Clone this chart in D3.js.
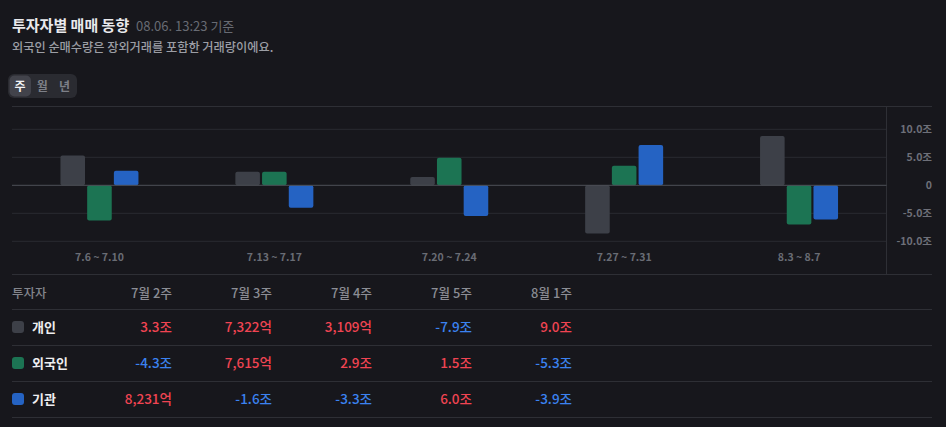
<!DOCTYPE html>
<html>
<head>
<meta charset="utf-8">
<script src="https://cdn.jsdelivr.net/npm/d3@7"></script>
<style>
  html, body { margin: 0; padding: 0; background: #17171c; }
  svg { display: block; font-family: "Noto Sans CJK KR", "Noto Sans", sans-serif; }
</style>
</head>
<body>
<svg id="chart" width="946" height="427"></svg>
<script>
// weekly ranges shown under the bars
const weeks = ["7.6 ~ 7.10", "7.13 ~ 7.17", "7.20 ~ 7.24", "7.27 ~ 7.31", "8.3 ~ 8.7"];
// bar values, 조
const individual = [5.3, 2.4, 1.5, -8.6, 8.8];
const foreign = [-6.3, 2.4, 4.9, 3.5, -7.0];
const institution = [2.6, -4.0, -5.5, 7.2, -6.1];
const yTicks = [-10, -5, 0, 5, 10];

// table
const weekLabels = ["7월 2주", "7월 3주", "7월 4주", "7월 5주", "8월 1주"];
const investors = ["개인", "외국인", "기관"];
// net amounts in 억
const tblIndividual = [33000, 7322, 3109, -79000, 90000];
const tblForeign = [-43000, 7615, 29000, 15000, -53000];
const tblInstitution = [8231, -16000, -33000, 60000, -39000];

const colors = ["#3d4048", "#1c7453", "#2563c3"];
const RED = "#f04452", BLUE = "#3b82f0";

// plain hyphen for negatives, like the original
const locale = d3.formatLocale({ decimal: ".", thousands: ",", grouping: [3], currency: ["", ""], minus: "-" });
const f1 = locale.format(".1f");
const fComma = locale.format(",");

const svg = d3.select("#chart");

// ---- header
svg.append("text").text("투자자별 매매 동향")
  .attr("x", 12).attr("y", 31)
  .attr("fill", "#e9e9ec").attr("font-size", 15).attr("font-weight", 700);
svg.append("text").text("08.06. 13:23 기준")
  .attr("x", 136).attr("y", 31)
  .attr("fill", "#686b73").attr("font-size", 13);
svg.append("text").text("외국인 순매수량은 장외거래를 포함한 거래량이에요.")
  .attr("x", 12).attr("y", 52)
  .attr("fill", "#9c9ea5").attr("font-size", 12.2).attr("font-weight", 500);

// period toggle
svg.append("rect").attr("x", 8).attr("y", 74).attr("width", 69).attr("height", 24)
  .attr("rx", 6).attr("fill", "#2a2b31");
svg.append("rect").attr("x", 9.5).attr("y", 75.5).attr("width", 21.5).attr("height", 21)
  .attr("rx", 5).attr("fill", "#42434b");
const toggles = ["주", "월", "년"];
svg.selectAll(".tog").data(toggles).join("text")
  .attr("class", "tog")
  .attr("x", (d, i) => 20 + i * 22.3).attr("y", 90.5)
  .attr("text-anchor", "middle").attr("font-size", 12).attr("font-weight", 700)
  .attr("fill", (d, i) => i === 0 ? "#f2f2f4" : "#7d8088")
  .text(d => d);

// ---- chart
const plotLeft = 12, plotRight = 886.5, axisRight = 932, plotTop = 106, plotBottom = 274;

const x0 = d3.scaleBand().domain(weeks).range([plotLeft, plotRight]);
const x1 = d3.scaleBand().domain([0, 1, 2]).range([-39, 39]).paddingInner(0.08);
const y = d3.scaleLinear().domain([-10, 10]).range([241.3, 129.3]);

const g = svg.append("g");

// grid
g.selectAll(".grid").data(yTicks.filter(d => d !== 0)).join("line")
  .attr("x1", plotLeft).attr("x2", plotRight)
  .attr("y1", d => y(d)).attr("y2", d => y(d))
  .attr("stroke", "#2a2b31").attr("stroke-width", 1);
[plotTop, plotBottom].forEach(v => {
  g.append("line").attr("x1", plotLeft).attr("x2", axisRight).attr("y1", v + 0.5).attr("y2", v + 0.5)
    .attr("stroke", "#2e2f35");
});
g.append("line").attr("x1", plotRight).attr("x2", plotRight).attr("y1", plotTop).attr("y2", plotBottom)
  .attr("stroke", "#2e2f35");

const series = [individual, foreign, institution];
const groups = g.selectAll(".grp").data(weeks).join("g")
  .attr("transform", d => `translate(${x0(d) + x0.bandwidth() / 2},0)`);

groups.selectAll("rect").data((d, i) => series.map((s, k) => ({ k, v: s[i] }))).join("rect")
  .attr("x", d => x1(d.k))
  .attr("width", x1.bandwidth())
  .attr("y", d => y(Math.max(0, d.v)))
  .attr("height", d => Math.abs(y(d.v) - y(0)))
  .attr("rx", 2)
  .attr("fill", d => colors[d.k]);

// zero line on top of bars
g.append("line").attr("x1", plotLeft).attr("x2", plotRight)
  .attr("y1", y(0)).attr("y2", y(0))
  .attr("stroke", "#4e5058").attr("stroke-width", 1);

// x labels
groups.append("text")
  .attr("y", 261).attr("text-anchor", "middle")
  .attr("font-size", 10.5).attr("font-weight", 700).attr("fill", "#696c74")
  .text(d => d);

// y axis
const yAxis = d3.axisLeft(y).tickValues(yTicks).tickSize(0).tickPadding(0)
  .tickFormat(d => d === 0 ? "0" : f1(d) + "조");
const ya = svg.append("g").attr("transform", `translate(${axisRight},0)`).call(yAxis);
ya.select(".domain").remove();
ya.selectAll("text")
  .attr("font-family", "'Noto Sans CJK KR', sans-serif")
  .attr("font-size", 10.5).attr("font-weight", 700).attr("fill", "#6e7079");

// ---- table
const colRight = d3.scalePoint().domain(weekLabels).range([172, 572]);
const rowY = d3.scalePoint().domain(investors).range([327, 399]);
const tbl = [tblIndividual, tblForeign, tblInstitution];

function fmt(v) {
  if (Math.abs(v) >= 10000) return f1(v / 10000) + "조";
  return fComma(v) + "억";
}

svg.append("text").text("투자자").attr("x", 12).attr("y", 297.5)
  .attr("fill", "#83858c").attr("font-size", 12.5).attr("font-weight", 500);
svg.selectAll(".colh").data(weekLabels).join("text")
  .attr("class", "colh")
  .attr("x", d => colRight(d)).attr("y", 297.5).attr("text-anchor", "end")
  .attr("fill", "#8b8d94").attr("font-size", 12.8).attr("font-weight", 500)
  .text(d => d);

[309, 345, 381, 417].forEach(v => {
  svg.append("line").attr("x1", 12).attr("x2", axisRight).attr("y1", v + 0.5).attr("y2", v + 0.5)
    .attr("stroke", "#2e2f35");
});

const rows = svg.selectAll(".row").data(investors).join("g")
  .attr("transform", d => `translate(0,${rowY(d)})`);
rows.append("rect").attr("x", 12).attr("y", -6).attr("width", 12).attr("height", 12)
  .attr("rx", 3).attr("fill", (d, i) => colors[i]);
rows.append("text").attr("x", 32).attr("y", 4.5)
  .attr("fill", "#eeeef0").attr("font-size", 13).attr("font-weight", 700)
  .text(d => d);
rows.selectAll(".val").data((d, i) => tbl[i]).join("text")
  .attr("class", "val")
  .attr("x", (d, j) => colRight(weekLabels[j])).attr("y", 5)
  .attr("text-anchor", "end").attr("font-size", 13.5).attr("font-weight", 500)
  .attr("fill", d => d < 0 ? BLUE : RED)
  .text(d => fmt(d));
</script>
</body>
</html>
